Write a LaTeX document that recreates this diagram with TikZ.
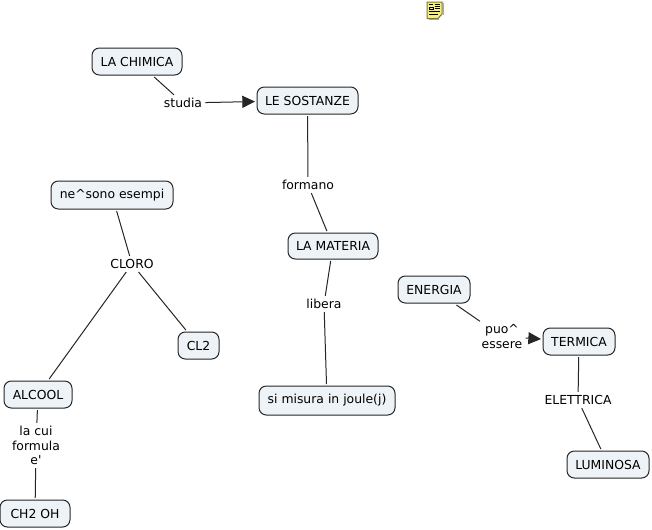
\documentclass[tikz,border=0pt]{standalone}
\usepackage{fontspec}
\setmainfont{DejaVu Sans}
\usetikzlibrary{arrows.meta}
\definecolor{boxfill}{HTML}{EDF3F6}
\definecolor{notefill}{HTML}{F7EE7E}
\definecolor{noteedge}{HTML}{77773A}
\tikzset{
  concept/.style={draw=black!85,line width=.75pt,fill=boxfill,rounded corners=5.5pt,inner sep=0pt,outer sep=1.5pt,font=\fontsize{9.3}{11}\selectfont,anchor=center},
  linking/.style={inner sep=1.5pt,outer sep=1pt,align=center,font=\fontsize{9.3}{10.9}\selectfont},
  link/.style={draw=black!85,line width=.75pt},
  linkarrow/.style={link,-{Triangle[length=9.5pt,width=9pt]}}
}
\newcommand{\boxat}[6]{\node[concept,minimum width=#4*.75pt,minimum height=#5*.75pt] (#1) at (#2,#3) {\raisebox{-.6pt}{#6}};}
\begin{document}
\begin{tikzpicture}[x=.75pt,y=-.75pt]
\useasboundingbox (0,0) rectangle (652,529);
\fill[white] (0,0) rectangle (652,529);
% concepts
\boxat{chimica}{137}{61.5}{90}{27}{LA CHIMICA}
\boxat{sostanze}{307.5}{100.5}{101}{27}{LE SOSTANZE}
\boxat{esempi}{112}{195}{122}{28}{ne\textasciicircum sono esempi}
\boxat{materia}{333}{246}{90}{26}{LA MATERIA}
\boxat{energia}{434}{289.5}{72}{27}{ENERGIA}
\boxat{termica}{579}{341.5}{72}{27}{TERMICA}
\boxat{cldue}{198.5}{345.5}{41}{27}{CL2}
\boxat{alcool}{38}{394.5}{68}{27}{ALCOOL}
\boxat{joule}{327}{400.5}{136}{29}{si misura in joule(j)}
\boxat{luminosa}{608}{464.5}{82}{27}{LUMINOSA}
\boxat{chdue}{35}{513.5}{70}{27}{CH2 OH}
% linking phrases
\node[linking] (studia) at (183,103) {studia};
\node[linking] (formano) at (308,185) {formano};
\node[linking] (cloro) at (132,264) {CLORO};
\node[linking] (libera) at (324,304) {libera};
\node[linking] (essere) at (502,336.5) {puo\textasciicircum\\essere};
\node[linking] (elettrica) at (578,400) {ELETTRICA};
\node[linking] (formula) at (36,445.5) {la cui\\formula\\e\textquotesingle};
% connectors
\draw[link] (chimica) -- (studia);
\draw[linkarrow] (studia) -- (sostanze);
\draw[link] (sostanze) -- (formano);
\draw[link] (formano) -- (materia);
\draw[link] (materia) -- (libera);
\draw[link] (libera) -- (joule);
\draw[link] (esempi) -- (cloro);
\draw[link] (cloro) -- (alcool);
\draw[link] (cloro) -- (cldue);
\draw[link] (alcool) -- (formula);
\draw[link] (formula) -- (chdue);
\draw[link] (energia) -- (essere);
\draw[linkarrow] (essere) -- (termica);
\draw[link] (termica) -- (elettrica);
\draw[link] (elettrica) -- (luminosa);
% note icon
\draw[noteedge,fill=notefill,line width=.75pt] (427,2) -- (442,2) -- (442,14) -- (438,18.5) -- (427,18.5) -- cycle;
\fill[noteedge!60] (442.8,3) rectangle (443.6,15);
\fill[noteedge!60] (429,19.2) rectangle (439,20);
\fill[black] (429,4) rectangle (433,4.9);
\draw[black,line width=.6pt] (429.5,7) rectangle (433,9.3);
\draw[black,line width=.6pt] (434.5,4.5) -- (440,4.5) (434.5,6.5) -- (440,6.5) (434.5,8.7) -- (440,8.7) (429,11.5) -- (440,11.5) (429,14) -- (437.5,14);
\end{tikzpicture}
\end{document}
